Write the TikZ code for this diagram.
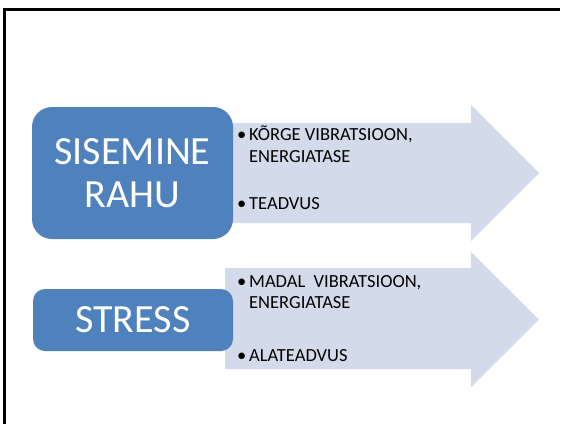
\documentclass[tikz,border=0pt]{standalone}
\usepackage{fontspec}
\setmainfont{Carlito}
\usepackage{xcolor}
\usepackage{tikz}
\usetikzlibrary{positioning}

\definecolor{boxblue}{HTML}{4F81BD}
\definecolor{arrowfill}{HTML}{D3DBEA}

\newcommand{\bitem}[1]{\makebox[12pt][l]{\textbullet}\begin{tabular}[t]{@{}l@{}}#1\end{tabular}}

\begin{document}
\begin{tikzpicture}[x=1pt, y=-1pt,
                bigbox/.style={rectangle, fill=boxblue, text=white, align=center, inner sep=0pt,
                               font=\fontsize{40}{43}\selectfont}, % Blue title box
                arrowbody/.style={fill=arrowfill, draw=none}, % Light arrow behind the box
                bullettext/.style={anchor=base west, inner sep=0pt, align=left,
                                   font=\fontsize{18.5}{21.5}\selectfont} % Bullet lines
                ]
                \fill[white] (0,0) rectangle (561,424);
                % frame
                \fill (3,424) rectangle (6,8);
                \fill (3,8) rectangle (559.5,11);

                % upper arrow
                \fill[arrowbody] (225,123) -- (471,123) -- (471,105) -- (539,173)
                    -- (471,241) -- (471,223) -- (225,223) -- cycle;
                \node[bigbox, minimum width=201pt, minimum height=132pt, rounded corners=20pt]
                    (rahu) at (132.5,173) {SISEMINE\\RAHU};
                \node[bullettext] (korge) at (237,140.7) {\bitem{KÕRGE VIBRATSIOON,\\ENERGIATASE}};
                \node[bullettext] (teadvus) at (237,209) {\bitem{TEADVUS}};

                % lower arrow
                \fill[arrowbody] (225,268) -- (471,268) -- (471,252) -- (539,319.5)
                    -- (471,387) -- (471,369) -- (225,369) -- cycle;
                \node[bigbox, minimum width=200pt, minimum height=62pt, rounded corners=12pt]
                    (stress) at (133,320) {STRESS};
                \node[bullettext] (madal) at (237,287) {\bitem{MADAL\ \ VIBRATSIOON,\\ENERGIATASE}};
                \node[bullettext] (alateadvus) at (237,361) {\bitem{ALATEADVUS}};
            \end{tikzpicture}
\end{document}
